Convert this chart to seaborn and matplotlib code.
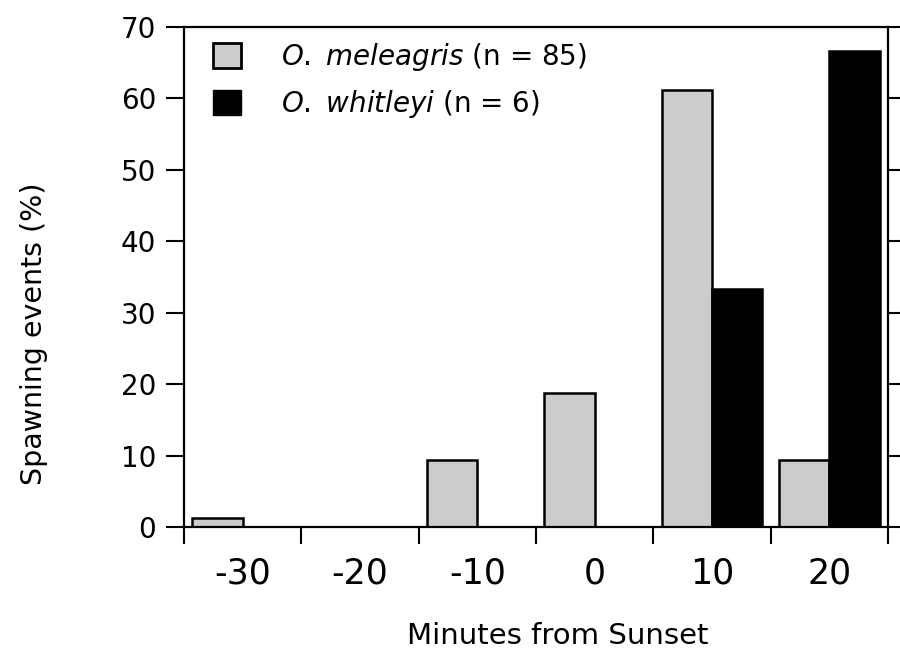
import matplotlib
matplotlib.use("Agg")
import matplotlib.pyplot as plt
import seaborn as sns
import pandas as pd
from matplotlib.patches import Patch

categories = ["-30", "-20", "-10", "0", "10", "20"]
meleagris = [1.2, 0.0, 9.4, 18.8, 61.2, 9.4]
whitleyi = [0.0, 0.0, 0.0, 0.0, 33.3, 66.7]
species = ["O. meleagris", "O. whitleyi"]
legend_labels = [r"$\mathit{O.}$ $\mathit{meleagris}$ (n = 85)", r"$\mathit{O.}$ $\mathit{whitleyi}$ (n = 6)"]
yticks = [0, 10, 20, 30, 40, 50, 60, 70]

df = pd.DataFrame({
    "minutes": categories * 2,
    "pct": meleagris + whitleyi,
    "species": [species[0]] * len(categories) + [species[1]] * len(categories),
})

sns.set_theme(style="white")
plt.rcParams["font.family"] = ["DejaVu Sans"]
plt.rcParams["text.color"] = "black"
plt.rcParams["axes.labelcolor"] = "black"
plt.rcParams["xtick.color"] = "black"
plt.rcParams["ytick.color"] = "black"
plt.rcParams["mathtext.fontset"] = "custom"
plt.rcParams["mathtext.it"] = "DejaVu Sans:italic"
plt.rcParams["mathtext.rm"] = "DejaVu Sans"

GREY = "#cccccc"
fig = plt.figure(figsize=(9, 6.56), dpi=100)
ax = fig.add_axes([184 / 900, 1 - 527 / 656, (888 - 184) / 900, 500 / 656])

sns.barplot(data=df, x="minutes", y="pct", hue="species", order=categories,
            hue_order=species, palette=[GREY, "black"], width=0.86,
            edgecolor="black", linewidth=1.8, saturation=1, ax=ax, legend=False)

ax.set_xlim(-0.5, 5.5)
ax.set_ylim(0, 70)
ax.set_yticks(yticks)
ax.set_yticklabels([str(v) for v in yticks])

ax.set_xticks([i - 0.5 for i in range(len(categories) + 1)])
ax.set_xticklabels([])
ax.set_xticks(range(len(categories)), minor=True)
ax.set_xticklabels(categories, minor=True, fontsize=25, color="black")
ax.tick_params(axis="x", which="major", direction="out", length=12, width=1.5, bottom=True)
ax.tick_params(axis="x", which="minor", length=0, pad=21, bottom=True, labelcolor="black")
ax.tick_params(axis="y", which="major", direction="out", length=13, width=1.5,
               left=True, right=True, labelsize=20, pad=7, labelcolor="black")

for s in ax.spines.values():
    s.set_visible(True)
    s.set_color("black")
    s.set_linewidth(1.6)

ax.set_xlabel("Minutes from Sunset", fontsize=21, color="black")
ax.set_ylabel("Spawning events (%)", fontsize=20.5, color="black")
ax.xaxis.set_label_coords(0.531, -0.19)
ax.yaxis.set_label_coords(-0.193, 0.386)

handles = [Patch(facecolor=GREY, edgecolor="black", linewidth=2.0),
           Patch(facecolor="black", edgecolor="black", linewidth=1.0)]
leg = ax.legend(handles, legend_labels, loc="upper left", bbox_to_anchor=(0.041, 0.972),
                frameon=False, fontsize=20, handlelength=1.0, handleheight=1.0,
                handletextpad=1.47, labelspacing=0.55, borderaxespad=0, borderpad=0)
for t in leg.get_texts():
    t.set_color("black")

fig.savefig("out.png", dpi=100)
